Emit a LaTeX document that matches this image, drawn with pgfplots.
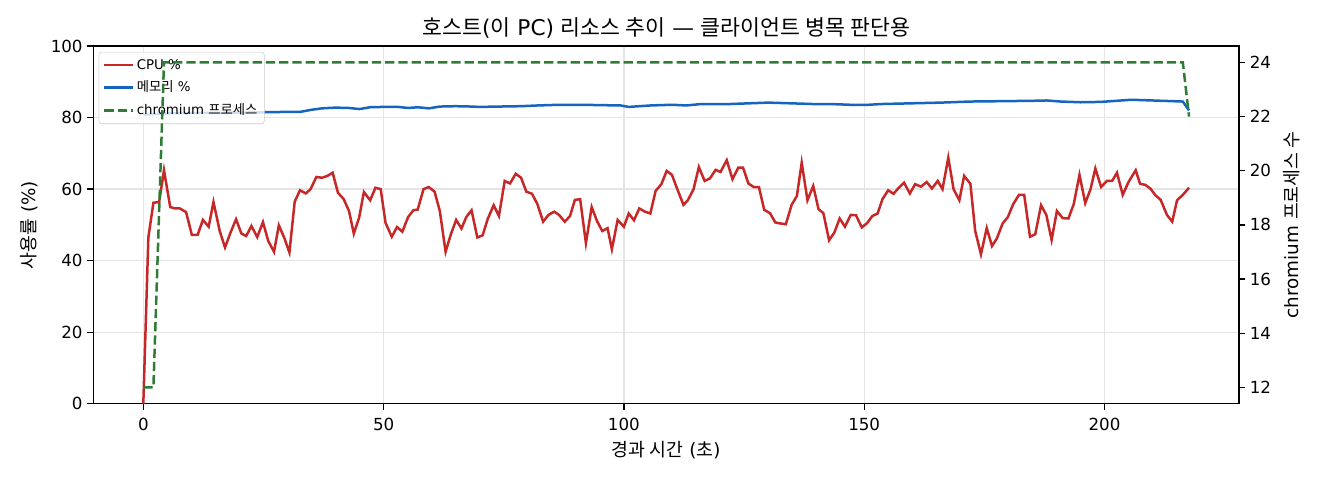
\documentclass[border=0pt]{standalone}
\usepackage{fontspec}
\setmainfont{DejaVu Sans}
\newfontfamily\kr{Noto Sans CJK KR}
\usepackage{pgfplots}
\pgfplotsset{compat=1.18}

\definecolor{cpured}{HTML}{C62828}
\definecolor{memblue}{HTML}{1565C0}
\definecolor{procgreen}{HTML}{2E7D32}

\pgfplotsset{
  hostaxis/.style={
    at={(67.2pt,54.9pt)}, anchor=south west,
    scale only axis, width=824.9pt, height=257.5pt,
    xmin=-10.4, xmax=228.0,
    tick align=outside, major tick length=4.2pt,
    every tick/.style={black, line width=0.96pt},
    axis line style={line width=0.96pt},
    tick label style={font=\fontsize{12}{14}\selectfont},
    xticklabel style={yshift=-2.5pt},
    label style={font=\fontsize{13.2}{15}\selectfont},
    /pgf/number format/assume math mode=true,
  },
}

\begin{document}
\begin{tikzpicture}
\useasboundingbox (0,0) rectangle (950.4pt,345.6pt);

% left axis: CPU and memory in percent
\begin{axis}[
  hostaxis,
  ymin=0, ymax=100, ytick={0,20,...,100},
  xtick={0,50,...,200},
  xtick pos=bottom, ytick pos=left,
  grid=major, grid style={black!10, line width=0.96pt},
  xlabel={{\kr 경과 시간} ({\kr 초})},
  xlabel style={at={(axis description cs:0.5,0)}, anchor=center, yshift=-33.3pt},
  ylabel={{\kr 사용률} (\%)},
  ylabel style={at={(axis description cs:0,0.5)}, anchor=center, yshift=46.3pt},
  title={{\kr 호스트}({\kr 이} PC) {\kr 리소스 추이} — {\kr 클라이언트 병목 판단용}},
  title style={font=\fontsize{15.6}{18}\selectfont, yshift=-4.1pt},
  legend cell align=left,
  legend image code/.code={\draw[#1] (0pt,0pt) -- (20.5pt,0pt);},
  legend style={at={(0,1)}, xshift=3.8pt, yshift=-4.2pt, anchor=north west,
    font=\fontsize{9.6}{11}\selectfont, draw=black!20, fill=white,
    fill opacity=0.8, text opacity=1, rounded corners=2pt,
    row sep=3pt, inner sep=3pt,
    /tikz/every even column/.append style={column sep=3.5pt}},
]
\addplot[cpured, line width=1.8pt] coordinates {
(0,0) (1.05,46.5) (2.1,56.2) (3.3,56.4) (4.3,65.3) (5.6,55.0) (6.6,54.6)
(7.6,54.6) (8.9,53.6) (10.1,47.2) (11.3,47.2) (12.4,51.4) (13.6,49.5)
(14.6,56.4) (15.9,48.3) (17.0,43.7) (18.1,47.7) (19.3,51.6) (20.4,47.6)
(21.4,46.9) (22.5,49.7) (23.7,46.6) (24.9,50.8) (26.0,45.5) (27.2,42.5)
(28.2,49.9) (29.3,46.5) (30.4,42.3) (31.5,56.5) (32.6,59.7) (33.8,58.8)
(34.8,60.0) (36.0,63.4) (37.2,63.2) (38.3,63.7) (39.4,64.6) (40.5,59.0)
(41.7,57.2) (42.8,53.9) (43.8,47.6) (44.9,52.0) (45.9,59.2) (47.2,56.9)
(48.3,60.4) (49.4,60.0) (50.4,50.6) (51.7,46.7) (52.8,49.4) (53.9,48.1)
(55.1,52.2) (56.2,54.1) (57.1,54.3) (58.3,60.0) (59.4,60.6) (60.6,59.3)
(61.7,53.9) (62.9,42.5) (64.0,47.4) (65.1,51.4) (66.2,49.0) (67.2,52.2)
(68.3,54.1) (69.5,46.5) (70.6,47.1) (71.7,51.8) (72.9,55.5) (74.0,52.5)
(75.2,62.3) (76.3,61.6) (77.5,64.3) (78.6,63.2) (79.7,59.3) (80.9,58.7)
(82.0,55.8) (83.2,50.9) (84.3,52.8) (85.5,53.7) (86.5,52.8) (87.7,50.9)
(88.8,52.5) (89.8,57.0) (90.9,57.2) (92.1,44.9) (93.3,55.0) (94.4,51.1)
(95.5,48.3) (96.6,49.1) (97.5,43.2) (98.7,51.4) (100.0,49.5) (101.0,53.2)
(102.1,51.3) (103.2,54.6) (104.4,53.7) (105.5,53.2) (106.6,59.5) (107.8,61.4)
(108.9,65.1) (110.0,64.0) (111.0,60.4) (112.4,55.6) (113.3,56.9) (114.5,60.0)
(115.6,66.2) (116.8,62.3) (117.9,63.0) (119.1,65.4) (120.1,64.8) (121.4,68.1)
(122.6,62.8) (123.8,66.0) (124.8,66.0) (125.9,61.6) (127.0,60.6) (128.1,60.6)
(129.2,54.2) (130.4,53.3) (131.5,50.7) (132.6,50.4) (133.7,50.2) (134.9,55.6)
(136.0,58.1) (137.0,67.4) (138.2,56.9) (139.4,60.9) (140.5,54.4) (141.5,53.3)
(142.7,45.7) (143.8,47.9) (144.9,51.8) (146.0,49.5) (147.2,52.8) (148.3,52.7)
(149.5,49.3) (150.6,50.5) (151.7,52.5) (152.8,53.2) (153.8,57.2) (155.0,59.7)
(156.1,58.7) (157.2,60.4) (158.3,61.8) (159.5,58.8) (160.6,61.4) (161.8,60.7)
(163.0,62.0) (164.1,60.2) (165.3,62.3) (166.3,60.0) (167.5,68.8) (168.6,60.0)
(169.8,56.9) (170.8,63.7) (172.1,61.5) (173.1,48.3) (174.3,41.8) (175.5,49.1)
(176.6,44.1) (177.6,46.2) (178.8,50.4) (179.9,52.2) (181.0,55.8) (182.2,58.4)
(183.3,58.4) (184.5,46.7) (185.6,47.4) (186.8,55.5) (187.9,52.8) (189.0,45.8)
(190.1,53.9) (191.3,51.9) (192.5,51.8) (193.6,55.8) (194.8,64.0) (196.0,56.1)
(197.1,60.0) (198.1,65.8) (199.3,60.6) (200.5,62.3) (201.6,62.3) (202.6,64.6)
(203.8,58.4) (205.0,62.0) (206.5,65.3) (207.4,61.5) (208.5,61.2) (209.6,60.1)
(210.6,58.3) (211.7,57.0) (213.0,52.8) (214.1,50.9) (215.1,56.9) (216.3,58.4)
(217.6,60.4)
};
\addlegendentry{CPU \%}
\addplot[memblue, line width=1.8pt] coordinates {
(0,80.8) (2.1,81.0) (4.3,81.2) (10,81.3) (20,81.4) (25,81.5) (29.5,81.6)
(32.6,81.6) (35,82.2) (37.2,82.6) (40,82.8) (42.8,82.7) (45,82.4) (47.2,82.9)
(50,83.0) (53,83.0) (55.1,82.7) (57.1,82.9) (59.4,82.6) (61.7,83.1) (65,83.2)
(68.3,83.1) (70,83.0) (74,83.1) (78.6,83.2) (82,83.4) (86.5,83.6) (91,83.6)
(95,83.5) (99.3,83.4) (101,83.0) (105.5,83.4) (110,83.6) (113,83.4) (116,83.8)
(122,83.8) (126,84.0) (130,84.2) (134.9,84.0) (139.4,83.8) (143,83.8)
(147,83.6) (151,83.6) (153.5,83.8) (159.7,84.0) (166,84.2) (172,84.5)
(178.5,84.6) (184.8,84.7) (188,84.8) (190.9,84.5) (195,84.3) (199.3,84.4)
(205.6,85.0) (210,84.8) (216.3,84.5) (217.6,82.0)
};
\addlegendentry{{\kr 메모리} \%}
\addlegendimage{procgreen, line width=1.8pt, dash pattern=on 6.66pt off 2.88pt}
\addlegendentry{chromium {\kr 프로세스}}
\end{axis}

% right axis: chromium process count
\begin{axis}[
  hostaxis,
  axis x line=none, axis y line*=right,
  ymin=11.4, ymax=24.6, ytick={12,14,...,24},
  ylabel={chromium {\kr 프로세스 수}},
  ylabel style={at={(axis description cs:1,0.5)}, anchor=center, yshift=-38pt},
]
\addplot[procgreen, line width=1.8pt, dash pattern=on 6.66pt off 2.88pt] coordinates {
(0,12) (1.05,12) (2.1,12) (4.3,24) (216.3,24) (217.6,22)
};
\end{axis}
\end{tikzpicture}
\end{document}
